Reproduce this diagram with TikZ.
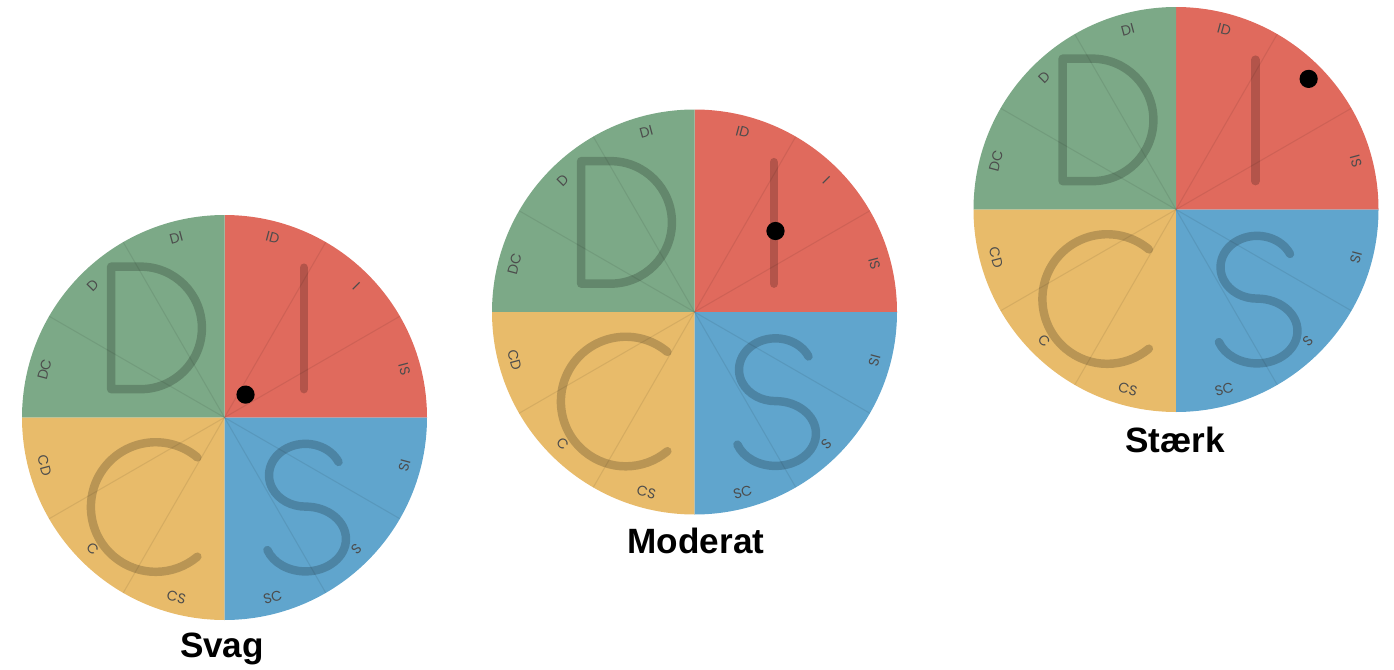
\documentclass[tikz,border=0pt]{standalone}
\usepackage{fontspec}
\setmainfont{Liberation Sans}
\newfontfamily\rimfont{Poppins}
\usetikzlibrary{positioning}
\definecolor{discgreen}{RGB}{124,169,135}
\definecolor{discred}{RGB}{224,106,93}
\definecolor{discyellow}{RGB}{232,187,106}
\definecolor{discblue}{RGB}{96,165,205}

\tikzset{
  bigletter/.style={line width=2.4pt, line cap=round, line join=round, black, opacity=0.2},
  spoke/.style={line width=0.3pt, black, opacity=0.08},
  rimlabel/.style={font=\rimfont\fontsize{4}{5}\selectfont, text=black!70, inner sep=0pt},
  wheeltitle/.style={font=\bfseries\fontsize{10}{12}\selectfont, anchor=base, inner sep=0pt}
}

% one DISC wheel: #1 centre, #2 position of the dot (in radii)
\newcommand{\discwheel}[2]{%
  \begin{scope}[shift={#1}, scale=2.025]
    \fill[discred] (0,0) -- (1,0) arc (0:90:1) -- cycle;
    \fill[discgreen] (0,0) -- (0,1) arc (90:180:1) -- cycle;
    \fill[discyellow] (0,0) -- (-1,0) arc (180:270:1) -- cycle;
    \fill[discblue] (0,0) -- (0,-1) arc (270:360:1) -- cycle;
    \foreach \a in {30,60,120,150,210,240,300,330}
      \draw[spoke] (0,0) -- (\a:1);
    % D I S C
    \draw[bigletter] (-0.56,0.14) -- (-0.56,0.745) -- (-0.414,0.745)
      arc (90:-90:0.3025) -- cycle;
    \draw[bigletter] (0.392,0.14) -- (0.392,0.74);
    \draw[bigletter] (-0.134,-0.197) arc (50:310:0.32);
    \draw[bigletter] (0.563,-0.2195)
      arc[start angle=25, end angle=270, x radius=0.18, y radius=0.155]
      arc[start angle=90, end angle=-160, x radius=0.2, y radius=0.16];
    \foreach \a/\t/\r in {105/DI/15, 135/D/45, 165/DC/75, 75/ID/-15, 45/I/-45, 15/IS/-75,
                          -15/SI/75, -45/S/45, -75/SC/15, -105/CS/-15, -135/C/-45, -165/CD/-75}
      \node[rimlabel, rotate=\r] at (\a:0.92) {\t};
    \fill[black] #2 circle (0.045);
  \end{scope}}

\begin{document}
\begin{tikzpicture}
  \useasboundingbox (0,0) rectangle (13.94,6.69);

  \discwheel{(2.245,2.515)}{(0.104,0.113)}
  \discwheel{(6.945,3.57)}{(0.40,0.40)}
  \discwheel{(11.76,4.595)}{(0.655,0.645)}

  \node[wheeltitle] (svag) at (2.22,0.12) {Svag};
  \node[wheeltitle] (moderat) at (6.96,1.16) {Moderat};
  \node[wheeltitle] (staerk) at (11.75,2.17) {Stærk};
\end{tikzpicture}
\end{document}
